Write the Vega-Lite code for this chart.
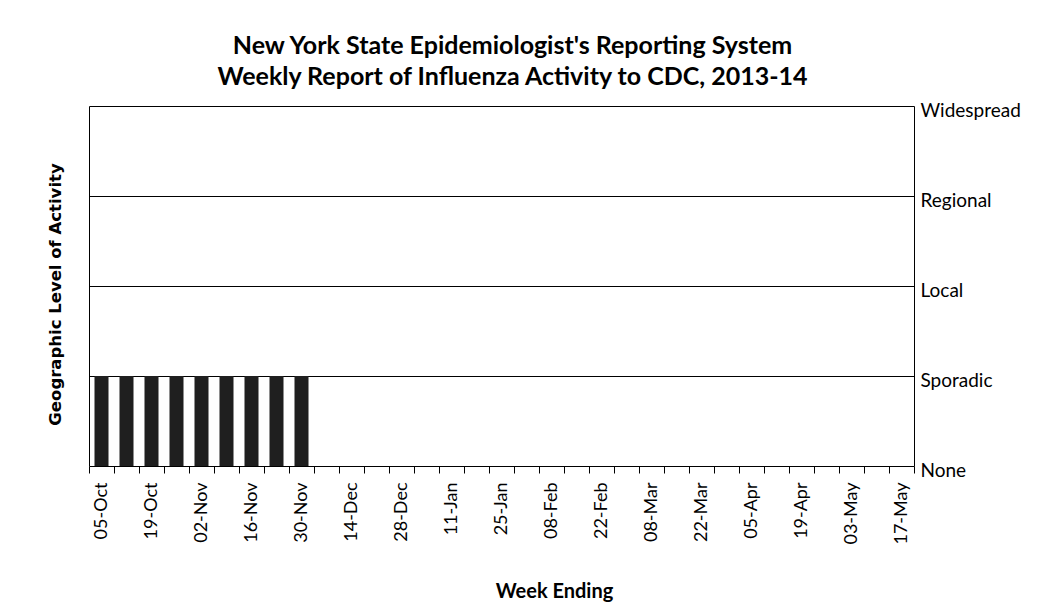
{
  "$schema": "https://vega.github.io/schema/vega-lite/v6.json",
  "autosize": "none",
  "width": 825,
  "height": 360,
  "padding": {"left": 89, "top": 106, "right": 135, "bottom": 147},
  "background": "white",
  "title": {
    "text": ["New York State Epidemiologist's Reporting System", "Weekly Report of Influenza Activity to CDC, 2013-14"],
    "font": "Lato",
    "fontSize": 25,
    "fontWeight": "bold",
    "color": "black",
    "lineHeight": 31,
    "anchor": "middle",
    "dx": 11,
    "offset": 11
  },
  "config": {
    "view": {"stroke": "black", "strokeWidth": 1},
    "axis": {"domainColor": "black", "tickColor": "black", "gridColor": "black", "gridOpacity": 1, "labelColor": "black", "titleColor": "black"}
  },
  "data": {
    "values": [
      {"week": "05-Oct", "level": 1},
      {"week": "12-Oct", "level": 1},
      {"week": "19-Oct", "level": 1},
      {"week": "26-Oct", "level": 1},
      {"week": "02-Nov", "level": 1},
      {"week": "09-Nov", "level": 1},
      {"week": "16-Nov", "level": 1},
      {"week": "23-Nov", "level": 1},
      {"week": "30-Nov", "level": 1},
      {"week": "07-Dec", "level": 0},
      {"week": "14-Dec", "level": 0},
      {"week": "21-Dec", "level": 0},
      {"week": "28-Dec", "level": 0},
      {"week": "04-Jan", "level": 0},
      {"week": "11-Jan", "level": 0},
      {"week": "18-Jan", "level": 0},
      {"week": "25-Jan", "level": 0},
      {"week": "01-Feb", "level": 0},
      {"week": "08-Feb", "level": 0},
      {"week": "15-Feb", "level": 0},
      {"week": "22-Feb", "level": 0},
      {"week": "01-Mar", "level": 0},
      {"week": "08-Mar", "level": 0},
      {"week": "15-Mar", "level": 0},
      {"week": "22-Mar", "level": 0},
      {"week": "29-Mar", "level": 0},
      {"week": "05-Apr", "level": 0},
      {"week": "12-Apr", "level": 0},
      {"week": "19-Apr", "level": 0},
      {"week": "26-Apr", "level": 0},
      {"week": "03-May", "level": 0},
      {"week": "10-May", "level": 0},
      {"week": "17-May", "level": 0}
    ]
  },
  "resolve": {"axis": {"y": "independent"}},
  "layer": [
    {
      "mark": {"type": "bar", "width": {"band": 0.56}, "color": "#1f1f1f"},
      "encoding": {
        "x": {
          "field": "week",
          "type": "ordinal",
          "sort": null,
          "scale": {"paddingInner": 0, "paddingOuter": 0},
          "axis": {
            "title": "Week Ending",
            "titleFont": "Lato",
            "titleFontSize": 20,
            "titleFontWeight": "bold",
            "titleBaseline": "middle",
            "titleX": 465,
            "titleY": 125,
            "labelFont": "Lato",
            "labelFontSize": 18,
            "labelAngle": 270,
            "labelPadding": 9,
            "tickBand": "extent",
            "tickSize": 7,
            "domain": false,
            "labelExpr": "indexof(['05-Oct','19-Oct','02-Nov','16-Nov','30-Nov','14-Dec','28-Dec','11-Jan','25-Jan','08-Feb','22-Feb','08-Mar','22-Mar','05-Apr','19-Apr','03-May','17-May'], datum.value) >= 0 ? datum.label : ''"
          }
        },
        "y": {
          "field": "level",
          "type": "quantitative",
          "scale": {"domain": [0, 4], "nice": false},
          "axis": {
            "orient": "left",
            "title": "Geographic Level of Activity",
            "titleFont": "DejaVu Sans",
            "titleFontSize": 16.5,
            "titleFontWeight": "bold",
            "titleBaseline": "middle",
            "titleX": -34,
            "titleY": 188,
            "labels": false,
            "ticks": false,
            "domain": false,
            "grid": true,
            "values": [1, 2, 3]
          }
        }
      }
    },
    {
      "mark": {"type": "bar", "opacity": 0},
      "encoding": {
        "x": {"field": "week", "type": "ordinal", "sort": null},
        "y": {
          "field": "level",
          "type": "quantitative",
          "axis": {
            "orient": "right",
            "title": null,
            "values": [0, 1, 2, 3, 4],
            "labelExpr": "['None','Sporadic','Local','Regional','Widespread'][datum.value]",
            "labelFont": "Lato",
            "labelFontSize": 19,
            "labelPadding": 6,
            "labelOffset": 4,
            "labelFlush": false,
            "ticks": false,
            "domain": false,
            "grid": false
          }
        }
      }
    }
  ]
}
